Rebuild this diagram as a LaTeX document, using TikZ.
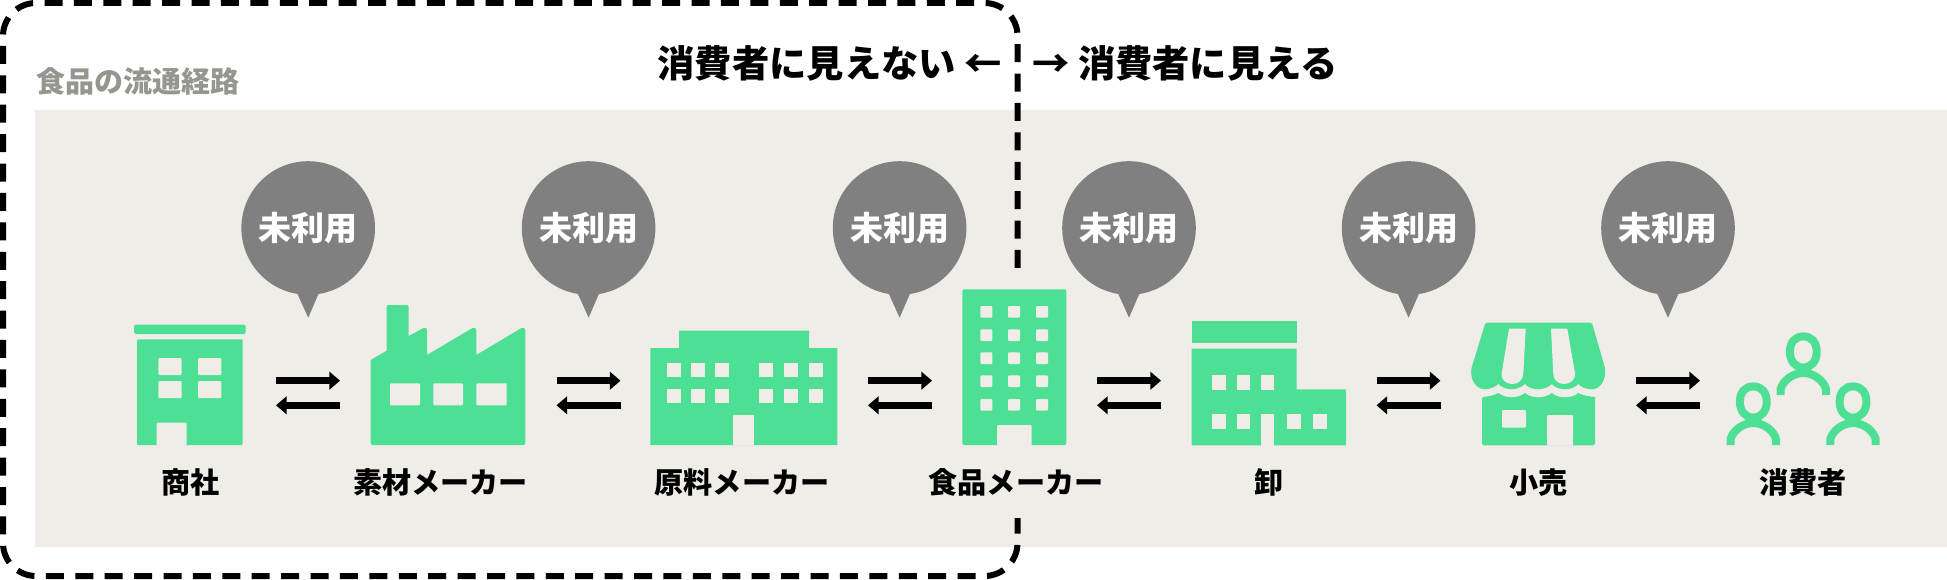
\documentclass[tikz,border=0pt]{standalone}
\usepackage{fontspec}
\setmainfont{Noto Sans CJK JP}
\usetikzlibrary{arrows.meta}
\definecolor{panelbg}{HTML}{F0EDE8}
\definecolor{icongreen}{HTML}{4DE095}
\definecolor{bubblegrey}{HTML}{808080}
\definecolor{titlegrey}{HTML}{969690}
\tikzset{
  panel/.style={fill=panelbg},
  icon/.style={fill=icongreen},
  cutout/.style={fill=panelbg},
  fence/.style={draw=black,line width=6pt,dash pattern=on 18pt off 11.41pt},
  bubble/.style={circle,fill=bubblegrey,minimum size=133.6pt,inner sep=0pt,text=white,font=\fontsize{33}{36}\selectfont\bfseries},
  bubbletip/.style={fill=bubblegrey},
  stagelabel/.style={inner sep=0pt,text=black,font=\fontsize{29.1}{32}\selectfont\bfseries},
  headline/.style={inner sep=0pt,text=black,font=\fontsize{37.3}{42}\selectfont\bfseries},
  paneltitle/.style={inner sep=0pt,text=titlegrey,font=\fontsize{29}{32}\selectfont\bfseries},
  flow/.style={draw=black,line width=7.4pt,-{Triangle[length=10.7pt,width=17.6pt]},shorten >=0pt},
  person/.style={draw=icongreen,line width=8pt,fill=none},
}
\newcommand{\flowpair}[2]{%
  \coordinate (#1wa) at (#2-32,380.7);
  \coordinate (#1ea) at (#2+32,380.7);
  \coordinate (#1wb) at (#2-32,405.3);
  \coordinate (#1eb) at (#2+32,405.3);
  \draw[flow] (#1wa) -- (#1ea);
  \draw[flow] (#1eb) -- (#1wb);
}
\newcommand{\speech}[2]{%
  \node[bubble] (#1) at (#2,228) {未利用};
  \fill[bubbletip] ([xshift=-12.5pt,yshift=-62pt]#1.center) -- ([yshift=-89.7pt]#1.center) -- ([xshift=12pt,yshift=-62pt]#1.center) -- cycle;
}
\newcommand{\oneperson}[2]{%
  \begin{scope}[shift={(#1,#2)}]
    \draw[person] (-13.4,352) .. controls (-13.4,342) and (-8,336.4) .. (0,336.4)
      .. controls (8,336.4) and (13.4,342) .. (13.4,352)
      .. controls (13.4,361) and (8,367.6) .. (0,367.6)
      .. controls (-8,367.6) and (-13.4,361) .. cycle;
    \draw[person] (-22.7,395) -- (-22.7,389) .. controls (-20,380) and (-10,373) .. (0,373)
      .. controls (10,373) and (20,380) .. (22.7,389) -- (22.7,395);
  \end{scope}
}
\begin{document}
\begin{tikzpicture}[x=1pt,y=-1pt]
\useasboundingbox (0,0) rectangle (1947,580);
\fill[white] (0,0) rectangle (1947,580);
\fill[panel] (35,110) rectangle (1947,547);
% dashed frame
\draw[fence,rounded corners=33pt] (1017.5,268) -- (1017.5,3) -- (3,3) -- (3,576) -- (1017.5,576) -- (1017.5,518);
% titles
\node[paneltitle,anchor=west] (title) at (36,81) {食品の流通経路};
\node[headline,anchor=east] (hidden) at (1002,63) {消費者に見えない ←};
\node[headline,anchor=west] (seen) at (1032,63) {→ 消費者に見える};
% bubbles
\speech{b1}{308.2}
\speech{b2}{588.6}
\speech{b3}{899.6}
\speech{b4}{1129}
\speech{b5}{1408.6}
\speech{b6}{1668}
% arrows
\flowpair{f1}{308}
\flowpair{f2}{588.5}
\flowpair{f3}{900}
\flowpair{f4}{1129}
\flowpair{f5}{1408.5}
\flowpair{f6}{1668}
% trading house
\fill[icon,rounded corners=1.5pt] (134,324.7) rectangle (245.7,334);
\fill[icon,rounded corners=1pt] (137,339.3) rectangle (242.7,445);
\foreach \x in {158.3,198}{\foreach \y in {358,381}{\fill[cutout,rounded corners=1pt] (\x,\y) rectangle (\x+23.4,\y+17);}}
\fill[cutout,rounded corners=1pt] (156.7,445.5) -- (156.7,422.7) -- (186.7,422.7) -- (186.7,445.5) -- cycle;
% factory
\fill[icon] (373,445) .. controls (371.5,445) and (370.7,444.2) .. (370.7,443) -- (370.7,360) -- (386.7,350.7) -- (386.7,307)
  .. controls (386.7,305.7) and (387.7,305) .. (389,305) -- (406.5,305) .. controls (407.8,305) and (408.7,305.7) .. (408.7,307)
  -- (408.7,336) -- (423.5,328) .. controls (425.5,327) and (427,328) .. (427,330)
  -- (427,355) -- (472.5,328) .. controls (474.5,327) and (476.3,328) .. (476.3,330)
  -- (476.3,355) -- (521.5,328) .. controls (523.5,327) and (525.3,328) .. (525.3,330)
  -- (525.3,443) .. controls (525.3,444.2) and (524.5,445) .. (523,445) -- cycle;
\foreach \x/\w in {390/30,433.3/29.7,476.3/30.4}{\fill[cutout,rounded corners=1pt] (\x,383.3) rectangle (\x+\w,405.3);}
% ingredient maker
\fill[icon] (650.3,445) -- (650.3,348) -- (679,348) -- (679,330.7) -- (809,330.7) -- (809,348) -- (837.3,348) -- (837.3,445) -- cycle;
\foreach \x in {667,691,714.7,759.3,784.3,808.7}{\foreach \y in {362.7,389.3}{\fill[cutout] (\x,\y) rectangle (\x+13.8,\y+14);}}
\fill[cutout] (733.3,415.3) rectangle (754.3,445);
% food maker
\fill[icon,rounded corners=2pt] (962.3,289.3) rectangle (1066.3,445);
\foreach \x in {980.3,1008,1036}{\foreach \y in {306,329.3,352.3,375.3,399}{\fill[cutout,rounded corners=1pt] (\x,\y) rectangle (\x+12,\y+11.7);}}
\fill[cutout,rounded corners=1pt] (997,445.5) -- (997,425) -- (1031.7,425) -- (1031.7,445.5) -- cycle;
% wholesale
\fill[icon] (1191.7,321.3) rectangle (1296.7,342.7);
\fill[icon] (1191.7,445.3) -- (1191.7,348.7) -- (1296.7,348.7) -- (1296.7,389.3) -- (1346,389.3) -- (1346,445.3) -- cycle;
\foreach \x in {1212.3,1236.7,1261}{\fill[cutout] (\x,375) rectangle (\x+13.2,389.7);}
\foreach \x in {1212.3,1236.7,1287.3,1313.3}{\fill[cutout] (\x,414) rectangle (\x+13.2,428.7);}
\fill[cutout] (1261,414) rectangle (1274.3,445.5);
% retail
\fill[icon,rounded corners=1.5pt] (1482,445.3) -- (1482,397) [sharp corners] .. controls (1488,396.5) and (1494,395.5) .. (1498.3,393)
  .. controls (1503,396.5) and (1508,397.3) .. (1511.7,397.3) .. controls (1516,397.3) and (1521,396) .. (1525,393)
  .. controls (1529,396.5) and (1534,397.3) .. (1538.3,397.3) .. controls (1543,397.3) and (1548,396) .. (1551.7,393)
  .. controls (1556,396.5) and (1561,397.3) .. (1565,397.3) .. controls (1570,397.3) and (1575,396) .. (1578.3,393)
  .. controls (1583,395.5) and (1589,396.5) .. (1595,397) [rounded corners=1.5pt] -- (1595,445.3) -- cycle;
\fill[icon] (1487,322.7) -- (1590.5,322.7) .. controls (1591.5,322.7) and (1592,323) .. (1592.3,324) -- (1605,368)
  .. controls (1606.5,380) and (1600,389.3) .. (1591.8,389.3) .. controls (1586,389.3) and (1581,387) .. (1578.3,384)
  .. controls (1575,387.5) and (1570,389.3) .. (1565,389.3) .. controls (1560,389.3) and (1555,387.5) .. (1551.7,384)
  .. controls (1548,387.5) and (1543,389.3) .. (1538.3,389.3) .. controls (1533,389.3) and (1528,387.5) .. (1525,384)
  .. controls (1521,387.5) and (1516,389.3) .. (1511.7,389.3) .. controls (1507,389.3) and (1502,387.5) .. (1498.3,384)
  .. controls (1495,387) and (1490,389.3) .. (1484.7,389.3) .. controls (1476.5,389.3) and (1469.5,380) .. (1471.5,368)
  -- (1485,324) .. controls (1485.3,323) and (1486,322.7) .. (1487,322.7) -- cycle;
\fill[cutout] (1509,328.7) -- (1525.7,328.7) -- (1523.3,374) .. controls (1523,380) and (1518,384) .. (1512.5,384) .. controls (1506,384) and (1501,380) .. (1501.7,373) -- cycle;
\fill[cutout] (1551,328.7) -- (1567.3,328.7) -- (1575,373) .. controls (1575.7,380) and (1570,384) .. (1564,384) .. controls (1558,384) and (1553.5,380) .. (1553.3,374) -- cycle;
\fill[cutout,rounded corners=1pt] (1502,410) rectangle (1526,427.7);
\fill[cutout,rounded corners=1pt] (1547,445.5) -- (1547,415) -- (1573,415) -- (1573,445.5) -- cycle;
% consumers
\oneperson{1803.3}{0}
\oneperson{1753.3}{50}
\oneperson{1853}{50}
% labels
\node[stagelabel] (l1) at (190.3,482.5) {商社};
\node[stagelabel] (l2) at (440.7,482.5) {素材メーカー};
\node[stagelabel] (l3) at (742,482.5) {原料メーカー};
\node[stagelabel] (l4) at (1016,482.5) {食品メーカー};
\node[stagelabel] (l5) at (1268.7,482.5) {卸};
\node[stagelabel] (l6) at (1538.3,482.5) {小売};
\node[stagelabel] (l7) at (1803.3,482.5) {消費者};
\end{tikzpicture}
\end{document}
